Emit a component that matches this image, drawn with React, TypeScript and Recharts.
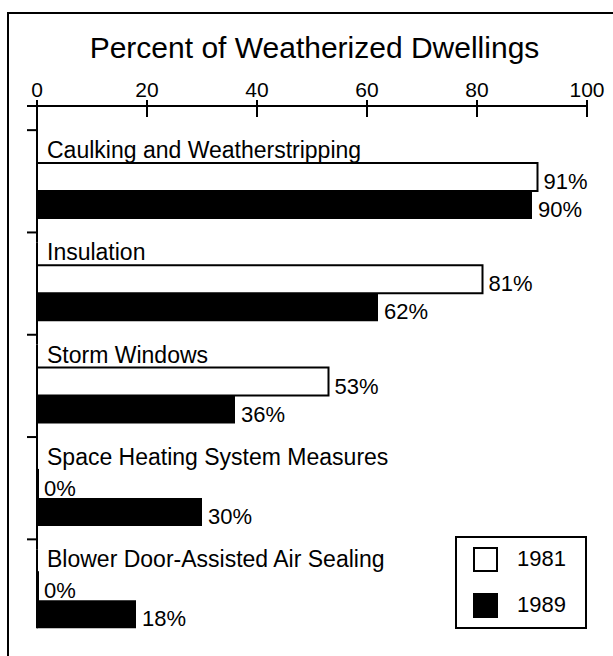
import { Bar, BarChart, LabelList, Legend, XAxis, YAxis } from "recharts";

const title = "Percent of Weatherized Dwellings";
const categories = [
  "Caulking and Weatherstripping",
  "Insulation",
  "Storm Windows",
  "Space Heating System Measures",
  "Blower Door-Assisted Air Sealing",
];
const share1981 = [91, 81, 53, 0, 0];
const share1989 = [90, 62, 36, 30, 18];
const years = ["1981", "1989"];
const percentTicks = [0, 20, 40, 60, 80, 100];

const data = categories.map((name, i) => ({
  name,
  y1981: share1981[i],
  y1989: share1989[i],
}));

const FONT = '"Liberation Sans", Arial, Helvetica, sans-serif';
const INK = "#000";
const BAR_SIZE = 28;
const CAT_PAD_TOP = 34;

function PercentTick({ x, y, payload }: any) {
  return (
    <g>
      <line x1={x} x2={x} y1={y - 6} y2={y + 11} stroke={INK} strokeWidth={2} />
      <text
        x={x}
        y={y - 9}
        textAnchor="middle"
        fontSize={21}
        fontFamily={FONT}
        fill={INK}
      >
        {payload.value}
      </text>
    </g>
  );
}

function CategoryTick({ x, y, payload, index }: any) {
  const half = payload.offset ?? 51;
  const first = index === 0;
  const last = index === categories.length - 1;
  const top = first ? y - half - CAT_PAD_TOP : y - half;
  const bottom = last ? y + BAR_SIZE : y + half;
  return (
    <g>
      <line x1={x} x2={x} y1={top} y2={bottom} stroke={INK} strokeWidth={2} />
      {first && (
        <line x1={x - 10} x2={x} y1={top} y2={top} stroke={INK} strokeWidth={2} />
      )}
      <line x1={x - 10} x2={x} y1={y - 61} y2={y - 61} stroke={INK} strokeWidth={2} />
      <text
        x={x + 10}
        y={y - BAR_SIZE - 5}
        textAnchor="start"
        fontSize={23}
        fontFamily={FONT}
        fill={INK}
      >
        {payload.value}
      </text>
    </g>
  );
}

function ValueLabel(props: any) {
  const vb = props.viewBox ?? props;
  const x = Number(vb.x ?? props.x);
  const y = Number(vb.y ?? props.y);
  const w = Number(vb.width ?? props.width ?? 0);
  const h = Number(vb.height ?? props.height ?? BAR_SIZE);
  return (
    <text
      x={x + w + 6}
      y={y + h / 2 + 12}
      fontSize={22}
      fontFamily={FONT}
      fill={INK}
    >
      {props.value}%
    </text>
  );
}

function YearLegend() {
  return (
    <div
      style={{
        position: "relative",
        width: 132,
        height: 93,
        border: "2px solid #000",
        boxSizing: "border-box",
        fontFamily: FONT,
        color: INK,
      }}
    >
      {years.map((yr, i) => (
        <div key={yr}>
          <div
            style={{
              position: "absolute",
              left: 16,
              top: 9 + i * 46,
              width: 25,
              height: 25,
              boxSizing: "border-box",
              border: "2px solid #000",
              background: i === 0 ? "#fff" : "#000",
            }}
          />
          <div
            style={{
              position: "absolute",
              left: 60,
              top: 8 + i * 46,
              fontSize: 22,
              lineHeight: "26px",
            }}
          >
            {yr}
          </div>
        </div>
      ))}
    </div>
  );
}

export default function App() {
  return (
    <div
      style={{
        position: "absolute",
        left: 0,
        top: 0,
        width: 613,
        height: 656,
        overflow: "hidden",
        background: "#fff",
      }}
    >
      <div
        style={{
          position: "absolute",
          left: 7,
          top: 12,
          width: 700,
          height: 700,
          border: "2px solid #000",
        }}
      />
      <div
        style={{
          position: "absolute",
          left: 0,
          top: 33,
          width: 629,
          textAlign: "center",
          fontFamily: FONT,
          fontSize: 30,
          lineHeight: "30px",
          color: INK,
        }}
      >
        {title}
      </div>
      <div style={{ position: "absolute", left: 0, top: 0 }}>
        <BarChart
          width={613}
          height={656}
          data={data}
          layout="vertical"
          barSize={BAR_SIZE}
          barGap={0}
          margin={{ top: 6, right: 26, bottom: 4.5, left: 27 }}
        >
          <XAxis
            type="number"
            orientation="top"
            domain={[0, 100]}
            ticks={percentTicks}
            height={100}
            tickSize={0}
            tickMargin={0}
            tickLine={false}
            axisLine={{ stroke: INK, strokeWidth: 2 }}
            tick={<PercentTick />}
          />
          <YAxis
            type="category"
            dataKey="name"
            width={10}
            interval={0}
            tickSize={0}
            tickMargin={0}
            tickLine={false}
            axisLine={false}
            padding={{ top: CAT_PAD_TOP, bottom: 0 }}
            tick={<CategoryTick />}
          />
          <Legend
            layout="horizontal"
            verticalAlign="middle"
            align="center"
            content={<YearLegend />}
            wrapperStyle={{ left: 455, top: 536, width: 132, height: 93 }}
          />
          <Bar
            dataKey="y1981"
            name={years[0]}
            fill="#fff"
            stroke={INK}
            strokeWidth={2}
            minPointSize={1}
            isAnimationActive={false}
          >
            <LabelList dataKey="y1981" content={<ValueLabel />} />
          </Bar>
          <Bar
            dataKey="y1989"
            name={years[1]}
            fill={INK}
            isAnimationActive={false}
          >
            <LabelList dataKey="y1989" content={<ValueLabel />} />
          </Bar>
        </BarChart>
      </div>
    </div>
  );
}
